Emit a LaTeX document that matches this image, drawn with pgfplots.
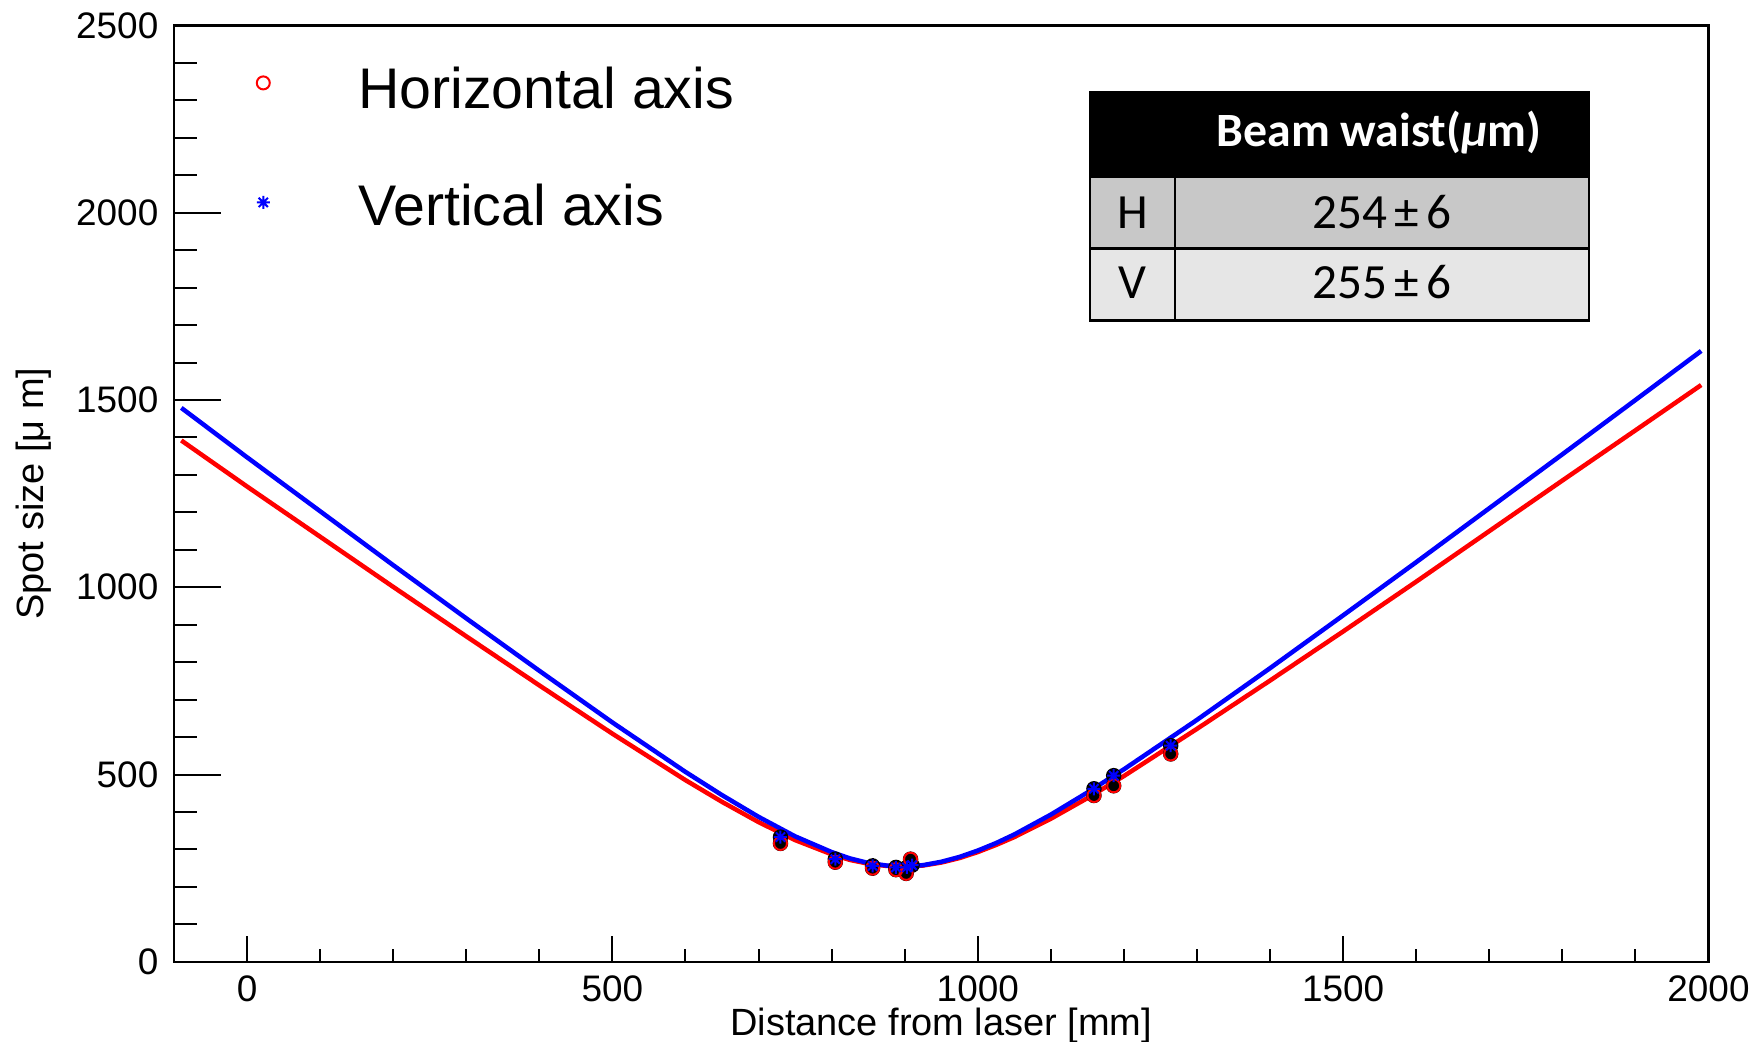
\documentclass[border=0pt]{standalone}
\usepackage{pgfplots}
\pgfplotsset{compat=1.18}
\usepackage{fontspec}
\setmainfont{Liberation Sans}
\newfontfamily\calibri{Carlito}
\definecolor{hrow}{RGB}{200,200,200}
\definecolor{vrow}{RGB}{230,230,230}

\pgfdeclareplotmark{rootstar}{%
 \pgfpathmoveto{\pgfqpoint{0pt}{\pgfplotmarksize}}\pgfpathlineto{\pgfqpoint{0pt}{-\pgfplotmarksize}}%
 \pgfpathmoveto{\pgfqpoint{\pgfplotmarksize}{0pt}}\pgfpathlineto{\pgfqpoint{-\pgfplotmarksize}{0pt}}%
 \pgfpathmoveto{\pgfqpoint{0.7071\pgfplotmarksize}{0.7071\pgfplotmarksize}}\pgfpathlineto{\pgfqpoint{-0.7071\pgfplotmarksize}{-0.7071\pgfplotmarksize}}%
 \pgfpathmoveto{\pgfqpoint{-0.7071\pgfplotmarksize}{0.7071\pgfplotmarksize}}\pgfpathlineto{\pgfqpoint{0.7071\pgfplotmarksize}{-0.7071\pgfplotmarksize}}%
 \pgfusepathqstroke}

\pgfplotsset{
 legimg/.style={legend image code/.code={\draw[##1] plot coordinates {(0mm,#1)};}},
 base/.style={
  scale only axis, width=153.45mm, height=93.63mm,
  xmin=-100, xmax=2000, ymin=0, ymax=2500,
  tick align=inside, xtick pos=bottom, ytick pos=left,
  axis line style={line width=0.25mm},
  every tick/.append style={black, line width=0.2mm},
  /pgf/number format/assume math mode=true,
  /pgf/number format/1000 sep={},
  scaled ticks=false,
  ticklabel style={font=\fontsize{10.5}{12}\selectfont},
 }
}

\begin{document}
\begin{tikzpicture}
% axis holding the y ticks (long ticks)
\begin{axis}[base,
 xtick=\empty, ytick={0,500,...,2500}, minor y tick num=4,
 major tick length=4.7mm, minor tick length=2.35mm,
 yticklabel style={anchor=east, inner sep=0pt, xshift=-1.5mm},
 ylabel={Spot size [μ m]},
 ylabel style={at={(axis description cs:-0.085,0.5)}, anchor=base, inner sep=0pt, font=\fontsize{10.8}{12}\selectfont},
]
\end{axis}
% main axis with data and x ticks
\begin{axis}[base,
 ytick=\empty, xtick={0,500,...,2000}, minor x tick num=4,
 major tick length=2.6mm, minor tick length=1.3mm,
 xticklabel style={anchor=north, inner sep=0pt, yshift=-1.3mm},
 xlabel={Distance from laser [mm]},
 xlabel style={at={(axis description cs:0.5,-0.0783)}, anchor=base, inner sep=0pt, font=\fontsize{10.8}{12}\selectfont},
 legend cell align=left,
 legend style={draw=none, fill=none, inner sep=0pt, outer sep=0pt,
   at={(0.05396,0.95525)}, anchor=north west,
   font=\fontsize{16.3}{19}\selectfont,
   row sep=7.0mm, column sep=8.85mm,
   cells={anchor=base west}, nodes={inner sep=0pt}},
]
\addplot[red, line width=0.45mm, forget plot] coordinates {
(-90,1392) (0,1269) (100,1135) (200,1001) (300,869) (400,738) (500,609) (600,485) (650,427) (700,373) (750,325) (800,287) (825,272) (850,262) (875,256) (900,254) (925,257) (950,265) (975,277) (1000,293) (1025,312) (1050,333) (1100,382) (1150,437) (1200,496) (1300,622) (1400,751) (1500,882) (1600,1015) (1700,1150) (1800,1285) (1900,1419) (1990,1540)};
\addplot[blue, line width=0.45mm, forget plot] coordinates {
(-90,1479) (0,1347) (100,1203) (200,1059) (300,917) (400,777) (500,639) (600,507) (650,445) (700,387) (750,335) (800,293) (825,276) (850,264) (875,257) (900,255) (925,258) (950,267) (975,280) (1000,297) (1025,317) (1050,340) (1100,393) (1150,452) (1200,514) (1300,646) (1400,784) (1500,925) (1600,1067) (1700,1211) (1800,1355) (1900,1500) (1990,1631)};
\addplot[only marks, mark=none, black, forget plot,
  error bars/.cd, y dir=both, y explicit,
  error bar style={line width=0.2mm, black},
  error mark options={black, mark size=0.3mm, line width=0.2mm}] coordinates {
(730,316) +- (0,12) (805,266) +- (0,12) (856,250) +- (0,12) (888,246) +- (0,12) (902,236) +- (0,12) (908,274) +- (0,12) (1159,444) +- (0,12) (1186,470) +- (0,12) (1264,555) +- (0,12)
(730,333) +- (0,12) (805,274) +- (0,12) (856,256) +- (0,12) (888,252) +- (0,12) (903,252) +- (0,12) (910,258) +- (0,12) (1159,462) +- (0,12) (1186,497) +- (0,12) (1264,577) +- (0,12)};
\addplot[only marks, mark=o, red, mark size=0.65mm, mark options={line width=0.2mm}, forget plot] coordinates {
(730,316) (805,266) (856,250) (888,246) (902,236) (908,274) (1159,444) (1186,470) (1264,555)};
\addplot[only marks, mark=rootstar, blue, mark size=0.65mm, mark options={line width=0.2mm}, forget plot] coordinates {
(730,333) (805,274) (856,256) (888,252) (903,252) (910,258) (1159,462) (1186,497) (1264,577)};
\addlegendimage{only marks, mark=o, red, mark size=0.65mm, line width=0.2mm, legimg=2.6mm}
\addlegendentry{Horizontal axis}
\addlegendimage{only marks, mark=rootstar, blue, mark size=0.65mm, line width=0.2mm, legimg=2.33mm}
\addlegendentry{Vertical axis}
\end{axis}
% table
\fill[black] (91.6mm,78.35mm) rectangle (141.5mm,86.95mm);
\fill[hrow] (91.6mm,71.35mm) rectangle (141.5mm,78.35mm);
\fill[vrow] (91.6mm,64.11mm) rectangle (141.5mm,71.35mm);
\draw[line width=0.25mm] (91.6mm,64.11mm) rectangle (141.5mm,86.95mm);
\draw[line width=0.25mm] (91.6mm,71.35mm) -- (141.5mm,71.35mm);
\draw[line width=0.25mm] (100.1mm,64.11mm) -- (100.1mm,78.35mm);
\node[anchor=base, inner sep=0pt, text=white, font={\calibri\bfseries\fontsize{13.6}{15}\selectfont}] at (120.5mm,81.51mm) {Beam waist({\itshape μ}m)};
\node[anchor=base, inner sep=0pt, font={\calibri\fontsize{14}{16}\selectfont}] at (95.85mm,73.35mm) {H};
\node[anchor=base, inner sep=0pt, font={\calibri\fontsize{14}{16}\selectfont}] at (120.8mm,73.35mm) {254\hspace{2.2pt}±\hspace{2.2pt}6};
\node[anchor=base, inner sep=0pt, font={\calibri\fontsize{14}{16}\selectfont}] at (95.85mm,66.35mm) {V};
\node[anchor=base, inner sep=0pt, font={\calibri\fontsize{14}{16}\selectfont}] at (120.8mm,66.35mm) {255\hspace{2.2pt}±\hspace{2.2pt}6};
\pgfresetboundingbox
\path[use as bounding box] (-17.4mm,-7.925mm) rectangle (158.0mm,96.18mm);
\end{tikzpicture}
\end{document}
